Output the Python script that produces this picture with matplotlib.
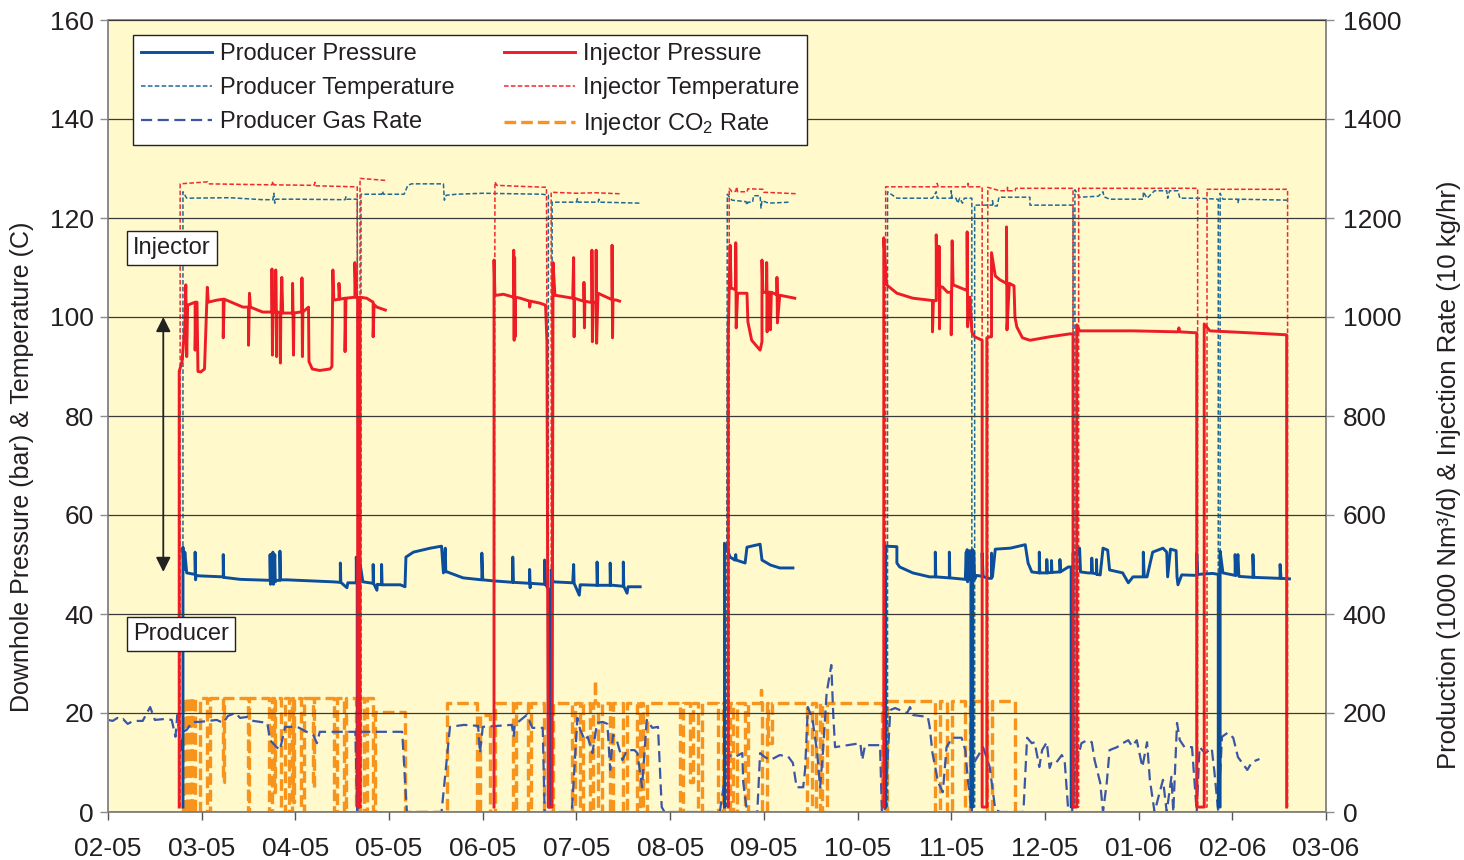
import numpy as np
import matplotlib.pyplot as plt

plt.rcParams['font.family'] = ['Liberation Sans', 'DejaVu Sans']
plt.rcParams['mathtext.fontset'] = 'custom'
plt.rcParams['mathtext.rm'] = 'Liberation Sans'
plt.rcParams['mathtext.it'] = 'Liberation Sans:italic'

month_labels = ['02-05', '03-05', '04-05', '05-05', '06-05', '07-05', '08-05',
                '09-05', '10-05', '11-05', '12-05', '01-06', '02-06', '03-06']

# x = months since 1 Feb 2005, None = gap in the record
inj_pressure = [
    (0.76, 1), (0.76, 89), (0.79, 91), (0.82, 98), (0.83, 106.5), (0.84, 92), (0.85, 102.4),
    (0.93, 103), (0.93, 93.3), (0.94, 103), (0.95, 103), (0.96, 89), (0.99, 88.9), (1.03, 89.5),
    (1.06, 106), (1.07, 103), (1.16, 103.4), (1.23, 103.6), (1.23, 95.8), (1.24, 103.6),
    (1.44, 102), (1.50, 102), (1.50, 94.3), (1.51, 104.8), (1.52, 102), (1.65, 101), (1.75, 101),
    (1.75, 109.7), (1.755, 92.3), (1.76, 101), (1.79, 101), (1.79, 109.5), (1.80, 92), (1.80, 101),
    (1.835, 100.9), (1.84, 90.7), (1.845, 100.9), (1.855, 108), (1.865, 100.8), (1.97, 100.8),
    (1.97, 106.8), (1.98, 92.3), (1.985, 100.8), (2.05, 101), (2.07, 101), (2.07, 107.9),
    (2.075, 92), (2.08, 101), (2.14, 102), (2.145, 91), (2.18, 89.5), (2.26, 89.2), (2.37, 89.5),
    (2.39, 90), (2.40, 109.5), (2.41, 103.4), (2.465, 103.6), (2.465, 106.8), (2.475, 103.6),
    (2.53, 103.8), (2.53, 93), (2.54, 103.8), (2.635, 104), (2.635, 111), (2.645, 104),
    (2.665, 104), (2.665, 1), (2.69, 1), (2.69, 104), (2.76, 103.8), (2.83, 103), (2.83, 96),
    (2.84, 102.5), (2.87, 102), (2.96, 101.4), None,
    (4.12, 1), (4.12, 111.5), (4.13, 104.4), (4.15, 104.4), (4.22, 104.6), (4.33, 104),
    (4.33, 113.5), (4.335, 95.3), (4.34, 112), (4.345, 96), (4.35, 104), (4.40, 103.8),
    (4.50, 103.2), (4.50, 102), (4.51, 103.2), (4.61, 102.8), (4.67, 102.4), (4.685, 95),
    (4.70, 1), (4.74, 1), (4.75, 111), (4.77, 104.4), (4.96, 103.8), (4.97, 112), (4.975, 96),
    (4.98, 103.8), (5.04, 103.4), (5.08, 103.2), (5.08, 107), (5.085, 97.8), (5.09, 103.2),
    (5.14, 103), (5.165, 103), (5.165, 113.5), (5.17, 95), (5.18, 103), (5.21, 103),
    (5.21, 113.5), (5.215, 94.7), (5.23, 104.8), (5.38, 103.5), (5.38, 114.5), (5.385, 95.8),
    (5.39, 103.5), (5.43, 103.4), (5.46, 103.2), None,
    (6.62, 1), (6.62, 96.8), (6.64, 114.5), (6.65, 105.8), (6.66, 105.8), (6.70, 105.5),
    (6.70, 115), (6.705, 97.8), (6.72, 104.8), (6.82, 104.8), (6.83, 99), (6.87, 95.3),
    (6.96, 93.3), (6.98, 95), (6.98, 111.5), (6.99, 105), (7.03, 105), (7.03, 111), (7.035, 97),
    (7.04, 105), (7.07, 105), (7.07, 97.4), (7.08, 105), (7.14, 104.5), (7.14, 108),
    (7.145, 98.8), (7.17, 104.4), (7.33, 103.8), None,
    (8.28, 1), (8.28, 116), (8.31, 106.5), (8.42, 104.8), (8.59, 103.8), (8.77, 103.4),
    (8.80, 103.3), (8.80, 97), (8.81, 103.3), (8.84, 103.3), (8.84, 116.6), (8.85, 106.5),
    (8.87, 106.3), (8.87, 114.3), (8.875, 97.6), (8.88, 106.2), (8.91, 106), (8.96, 105),
    (9.00, 105), (9.00, 96.4), (9.01, 115.4), (9.02, 106.5), (9.15, 105.5), (9.17, 105.4),
    (9.17, 117.2), (9.175, 98), (9.20, 104), (9.22, 97), (9.25, 96), (9.33, 95.3), (9.33, 1),
    (9.38, 1), (9.38, 95.8), (9.41, 96), (9.43, 96), (9.43, 113), (9.47, 108.3), (9.52, 107.5),
    (9.59, 106.8), (9.59, 118.2), (9.595, 97.4), (9.62, 106.8), (9.67, 106.3), (9.68, 100),
    (9.70, 98), (9.76, 95.8), (9.84, 95.3), (10.05, 96), (10.27, 96.6), (10.30, 96.6),
    (10.30, 1), (10.34, 1), (10.34, 98.4), (10.37, 97.2), (10.94, 97.2), (11.42, 97),
    (11.43, 97.8), (11.44, 97), (11.62, 96.8), (11.62, 1), (11.70, 1), (11.70, 98.6),
    (11.76, 97.2), (12.19, 96.8), (12.58, 96.4), (12.58, 1),
]

inj_temperature = [
    (0.77, 1), (0.77, 126.9), (1.06, 127.3), (1.07, 126.9), (1.75, 126.7), (1.76, 127.4),
    (1.77, 126.7), (2.20, 126.6), (2.21, 127.2), (2.22, 126.5), (2.66, 126.3), (2.67, 1),
    (2.69, 1), (2.69, 128), (2.96, 127.6), None,
    (4.12, 1), (4.13, 127.3), (4.15, 126.6), (4.40, 126.4), (4.68, 126.2), (4.70, 1),
    (4.73, 1), (4.73, 125.2), (5.00, 125.0), (5.20, 125.1), (5.46, 124.9), None,
    (6.63, 1), (6.63, 126), (6.66, 125.3), (6.70, 125.4), (6.71, 126.3), (6.72, 125.3),
    (6.82, 125.3), (6.83, 125.9), (6.99, 125.8), (7.00, 125.2), (7.35, 124.9), None,
    (8.30, 1), (8.30, 126.3), (8.84, 126.3), (8.85, 127), (8.86, 126.3), (9.18, 126.3),
    (9.18, 127), (9.19, 126.3), (9.33, 126.3), (9.33, 1), (9.39, 1), (9.39, 126.2),
    (9.52, 125.5), (9.60, 125.5), (9.60, 126.2), (9.61, 125.5), (9.68, 125.5), (9.69, 126),
    (10.30, 126), (10.30, 1), (10.36, 1), (10.36, 126), (11.63, 126), (11.63, 1), (11.73, 1),
    (11.73, 125.8), (12.59, 125.8), (12.59, 1),
]

prod_pressure = [
    (0.80, 1), (0.80, 53.5), (0.81, 49), (0.82, 52.5), (0.84, 48.3), (0.93, 48), (0.93, 52.5),
    (0.935, 46.9), (0.94, 47.8), (0.98, 47.7), (1.23, 47.5), (1.23, 52), (1.235, 47.4),
    (1.41, 47), (1.73, 46.8), (1.73, 52), (1.735, 46), (1.745, 52), (1.75, 46.5), (1.76, 52.5),
    (1.765, 46), (1.78, 52), (1.785, 46.5), (1.80, 46.8), (1.835, 46.8), (1.835, 52.7),
    (1.84, 46.9), (1.91, 46.9), (2.40, 46.5), (2.48, 46.4), (2.48, 50.3), (2.485, 46.4),
    (2.55, 45.3), (2.56, 46.3), (2.61, 46.3), (2.65, 46.3), (2.65, 51.5), (2.66, 47), (2.66, 1),
    (2.68, 1), (2.68, 51.5), (2.72, 46.5), (2.83, 46.2), (2.83, 50), (2.835, 46.2), (2.87, 44.8),
    (2.875, 46), (2.92, 45.9), (2.92, 50), (2.925, 45.9), (3.12, 45.9), (3.17, 45.5),
    (3.18, 51.5), (3.26, 52.5), (3.44, 53.3), (3.56, 53.7), (3.58, 48.3), (3.60, 53.3),
    (3.605, 48.5), (3.62, 48.5), (3.79, 47.3), (3.99, 46.9), (3.99, 52.3), (4.00, 46.9),
    (4.11, 46.7), (4.32, 46.4), (4.32, 51.5), (4.325, 46.4), (4.50, 46.2), (4.50, 49),
    (4.505, 45.3), (4.51, 46.2), (4.66, 46), (4.66, 50.9), (4.67, 46), (4.70, 45), (4.70, 1),
    (4.72, 1), (4.73, 48.9), (4.75, 46.5), (4.96, 46.3), (4.97, 50), (4.975, 46.2),
    (5.03, 43.8), (5.04, 45.9), (5.06, 45.9), (5.22, 45.8), (5.22, 50.5), (5.225, 45.8),
    (5.36, 45.8), (5.36, 50.3), (5.365, 45.8), (5.39, 45.8), (5.50, 45.6), (5.50, 50.5),
    (5.505, 45.6), (5.54, 44.2), (5.55, 45.5), (5.68, 45.5), None,
    (6.58, 1), (6.58, 54.3), (6.61, 53), (6.64, 51.5), (6.69, 50.9), (6.70, 52), (6.705, 50.9),
    (6.80, 50.3), (6.82, 53.5), (6.96, 54.1), (6.98, 50.9), (7.07, 49.9), (7.17, 49.3),
    (7.31, 49.3), None,
    (8.30, 1), (8.30, 53.7), (8.42, 53.6), (8.42, 50.3), (8.45, 49.5), (8.59, 48.3),
    (8.77, 47.5), (8.83, 47.5), (8.83, 52.5), (8.835, 47.5), (8.98, 47.3), (8.98, 52.5),
    (8.985, 47.3), (9.15, 47), (9.16, 52.5), (9.165, 47), (9.17, 53), (9.175, 46.5),
    (9.18, 52), (9.19, 47), (9.20, 52.8), (9.21, 47), (9.21, 1), (9.23, 1), (9.23, 53),
    (9.235, 47), (9.24, 52.5), (9.25, 47), (9.27, 47.8), (9.33, 47.6), (9.33, 52.3),
    (9.34, 47.6), (9.39, 47.2), (9.43, 47.2), (9.43, 52.3), (9.44, 47.5), (9.47, 53.1),
    (9.63, 53.3), (9.79, 54), (9.82, 50.3), (9.86, 48.5), (9.94, 48.3), (9.94, 52.5),
    (9.945, 48.3), (10.02, 48.3), (10.02, 51), (10.025, 48.3), (10.07, 48.4), (10.07, 50.8),
    (10.075, 48.4), (10.16, 48.5), (10.16, 51), (10.165, 48.5), (10.25, 49.5), (10.28, 49.5),
    (10.28, 1), (10.30, 1), (10.30, 52.3), (10.35, 52.3), (10.37, 53.3), (10.38, 48.5),
    (10.46, 48.3), (10.50, 48.3), (10.50, 51.3), (10.505, 48.3), (10.55, 48.1), (10.55, 51),
    (10.555, 48), (10.59, 47.9), (10.62, 53.3), (10.67, 52.9), (10.69, 48.9), (10.83, 48.3),
    (10.89, 46.3), (10.94, 47.5), (11.05, 47.5), (11.05, 52.5), (11.06, 47.5), (11.09, 47.5),
    (11.15, 52.5), (11.26, 53.3), (11.30, 52.5), (11.31, 47.5), (11.34, 53.1), (11.40, 52.8),
    (11.41, 47.5), (11.42, 45.9), (11.46, 47.9), (11.62, 47.8), (11.62, 52.3), (11.63, 48),
    (11.79, 48.2), (11.85, 48), (11.85, 1), (11.87, 1), (11.87, 52.7), (11.90, 48.3),
    (12.03, 47.8), (12.03, 52), (12.04, 47.8), (12.06, 52), (12.07, 47.6), (12.22, 47.4),
    (12.22, 52), (12.23, 47.4), (12.51, 47.2), (12.51, 50), (12.52, 47.2), (12.61, 47.1),
]

prod_temperature = [
    (0.80, 1), (0.80, 125.3), (0.84, 124), (1.30, 124.1), (1.65, 123.7), (1.76, 123.7),
    (1.77, 125), (1.78, 123), (1.79, 123.8), (2.00, 123.8), (2.53, 123.7), (2.54, 124.3),
    (2.55, 123.8), (2.66, 123.8), (2.67, 1), (2.70, 1), (2.70, 124.8), (2.92, 124.8),
    (2.93, 125.4), (2.94, 124.8), (3.16, 124.8), (3.20, 126.6), (3.24, 126.9), (3.58, 126.9),
    (3.59, 123.6), (3.61, 124.6), (3.72, 124.8), (4.00, 125), (4.64, 124.8), (4.70, 124.6),
    (4.70, 1), (4.74, 1), (4.74, 123.2), (5.00, 123.2), (5.01, 123.9), (5.02, 123.2),
    (5.23, 123.2), (5.24, 123.8), (5.25, 123.2), (5.68, 123), None,
    (6.60, 1), (6.61, 124.8), (6.66, 123.6), (6.81, 123.3), (6.82, 122.6), (6.83, 123.2),
    (6.88, 123.2), (6.89, 124.5), (6.96, 124.5), (6.97, 122), (6.98, 123.5), (7.05, 123),
    (7.28, 123.2), None,
    (8.32, 1), (8.32, 125.3), (8.42, 124), (8.80, 124), (8.84, 125.3), (8.85, 124), (9.00, 124),
    (9.00, 125.5), (9.01, 124), (9.05, 124), (9.07, 123), (9.09, 124), (9.12, 123), (9.14, 124),
    (9.22, 124), (9.22, 1), (9.25, 1), (9.25, 122.6), (9.44, 122.6), (9.44, 123.5),
    (9.45, 122.5), (9.49, 122.4), (9.51, 124.2), (9.84, 124.2), (9.84, 122.6), (10.30, 122.6),
    (10.30, 1), (10.32, 1), (10.32, 125.7), (10.37, 124.2), (10.57, 124.4), (10.62, 125.3),
    (10.63, 124.3), (10.69, 123.8), (11.05, 123.8), (11.05, 125.3), (11.09, 124),
    (11.17, 125.5), (11.30, 125.5), (11.31, 124), (11.33, 125.5), (11.42, 125.5), (11.44, 124),
    (11.63, 124), (11.85, 123.8), (11.85, 1), (11.87, 1), (11.87, 125), (11.90, 123.8),
    (12.06, 123.8), (12.06, 123), (12.07, 123.8), (12.61, 123.6),
]

# producer gas rate, 1000 Nm3/d (right axis)
gas_rate = [
    (0.00, 186), (0.05, 184), (0.10, 190), (0.13, 186), (0.16, 188), (0.21, 178), (0.27, 184),
    (0.37, 184), (0.45, 212), (0.50, 186), (0.61, 188), (0.68, 186), (0.72, 152), (0.74, 196),
    (0.78, 119), (0.80, 162), (0.84, 166), (0.90, 182), (0.98, 182), (1.16, 186), (1.23, 180),
    (1.28, 194), (1.36, 200), (1.41, 190), (1.48, 192), (1.55, 184), (1.70, 180), (1.73, 145),
    (1.80, 131), (1.835, 125), (1.89, 172), (2.02, 172), (2.12, 162), (2.19, 156), (2.23, 139),
    (2.26, 162), (2.40, 162), (2.64, 162), (2.66, 0), (2.69, 162), (3.14, 162), (3.19, 0),
    (3.56, 0), (3.65, 172), (3.80, 176), (3.95, 174), (3.97, 119), (4.00, 172), (4.31, 176),
    (4.33, 152), (4.34, 176), (4.47, 196), (4.53, 170), (4.64, 170), (4.66, 0), (4.95, 0),
    (5.01, 190), (5.04, 166), (5.09, 145), (5.12, 152), (5.17, 119), (5.22, 180), (5.28, 182),
    (5.33, 178), (5.36, 85), (5.39, 156), (5.43, 145), (5.49, 105), (5.54, 125), (5.62, 125),
    (5.65, 119), (5.70, 50), (5.75, 186), (5.81, 170), (5.87, 172), (5.91, 10), (5.94, 0),
    (6.53, 0), (6.62, 115), (6.69, 111), (6.77, 119), (6.78, 60), (6.82, 0), (6.93, 0),
    (6.96, 119), (7.01, 111), (7.07, 105), (7.17, 115), (7.26, 112), (7.31, 99), (7.35, 50),
    (7.42, 50), (7.44, 85), (7.47, 212), (7.52, 186), (7.57, 119), (7.60, 50), (7.63, 119),
    (7.67, 240), (7.72, 297), (7.74, 200), (7.76, 131), (8.03, 139), (8.05, 105), (8.08, 135),
    (8.24, 135), (8.26, 0), (8.29, 0), (8.35, 206), (8.40, 210), (8.53, 200), (8.56, 212),
    (8.59, 196), (8.75, 192), (8.77, 172), (8.80, 119), (8.86, 60), (8.91, 40), (8.95, 131),
    (9.01, 150), (9.11, 150), (9.15, 125), (9.18, 60), (9.22, 0), (9.23, 95), (9.34, 131),
    (9.41, 91), (9.47, 5), (9.52, 0), (9.77, 0), (9.81, 150), (9.86, 139), (9.89, 141),
    (9.94, 91), (9.97, 125), (10.02, 141), (10.05, 89), (10.07, 99), (10.11, 97), (10.18, 115),
    (10.21, 105), (10.25, 0), (10.29, 0), (10.32, 85), (10.39, 139), (10.45, 145), (10.50, 141),
    (10.53, 105), (10.59, 59), (10.62, 0), (10.66, 59), (10.69, 125), (10.77, 131),
    (10.83, 139), (10.89, 145), (10.93, 133), (10.98, 145), (11.04, 91), (11.09, 141),
    (11.12, 65), (11.17, 0), (11.26, 65), (11.30, 0), (11.35, 71), (11.37, 0), (11.41, 180),
    (11.44, 145), (11.49, 131), (11.57, 131), (11.58, 105), (11.62, 0), (11.65, 131),
    (11.71, 119), (11.78, 129), (11.81, 79), (11.85, 0), (11.89, 152), (11.95, 160),
    (12.01, 150), (12.06, 111), (12.16, 85), (12.21, 101), (12.29, 107),
]

# injector CO2 rate, 10 kg/hr (right axis): running periods, short outages, spikes
co2_levels = [(0.80, 2.83, 230), (2.85, 3.17, 203), (3.62, 3.94, 220), (3.97, 4.08, 195),
              (4.13, 8.26, 220), (8.31, 9.68, 225)]
co2_outages = [
    (0.81, 0.84, 0), (0.875, 0.90, 0), (0.93, 0.98, 0), (1.06, 1.09, 0), (1.23, 1.24, 60),
    (1.49, 1.505, 0), (1.72, 1.75, 0), (1.77, 1.78, 40), (1.85, 1.89, 0), (1.93, 1.96, 0),
    (1.97, 1.985, 20), (2.06, 2.09, 0), (2.19, 2.20, 50), (2.41, 2.44, 0), (2.52, 2.54, 0),
    (2.65, 2.69, 0), (2.73, 2.76, 0), (4.32, 4.36, 0), (4.48, 4.52, 0), (4.65, 4.75, 0),
    (4.95, 4.98, 0), (5.04, 5.07, 0), (5.14, 5.18, 0), (5.23, 5.27, 0), (5.36, 5.39, 0),
    (5.50, 5.54, 0), (5.65, 5.68, 0), (5.71, 5.75, 0), (6.10, 6.14, 0), (6.21, 6.24, 60),
    (6.30, 6.34, 0), (6.51, 6.56, 0), (6.58, 6.64, 0), (6.67, 6.71, 0), (6.80, 6.83, 0),
    (6.985, 7.03, 0), (7.04, 7.09, 140), (7.46, 7.51, 0), (7.56, 7.60, 0), (7.62, 7.67, 0),
    (8.83, 8.88, 0), (8.95, 9.01, 0), (9.15, 9.20, 0), (9.38, 9.43, 0),
]
co2_spikes = [(5.20, 267), (6.97, 246)]


def split(series):
    x = [np.nan if p is None else p[0] for p in series]
    y = [np.nan if p is None else p[1] for p in series]
    return x, y


def rate_steps(levels, outages, spikes):
    xs, ys = [], []
    for start, end, level in levels:
        xs += [start, start]
        ys += [0, level]
        events = [(a, 'o', (b, floor)) for a, b, floor in outages if start < a < end]
        events += [(s, 's', v) for s, v in spikes if start < s < end]
        for pos, kind, info in sorted(events):
            if kind == 'o':
                b, floor = info
                xs += [pos, pos, b, b]
                ys += [level, floor, floor, level]
            else:
                xs += [pos, pos, pos]
                ys += [level, info, level]
        xs += [end, end]
        ys += [level, 0]
    return xs, ys


bg = '#fff9cc'
text_col = '#231f20'

fig = plt.figure(figsize=(14.64, 8.6), dpi=100)
ax = fig.add_axes([108 / 1464, 48 / 860, 1218 / 1464, 792 / 860])
ax2 = ax.twinx()
ax.set_zorder(ax2.get_zorder() + 1)
ax.patch.set_visible(False)
ax2.patch.set_visible(True)
ax2.patch.set_facecolor(bg)

cx, cy = rate_steps(co2_levels, co2_outages, co2_spikes)
h_co2, = ax2.plot(cx, cy, color='#f7941d', lw=2.4, dashes=(3.5, 1.5))
gx, gy = split(gas_rate)
h_gas, = ax2.plot(gx, gy, color='#3a56a6', lw=1.6, dashes=(5, 2.5))

x, y = split(prod_temperature)
h_pt, = ax.plot(x, y, color='#1f6a94', lw=1.1, dashes=(3, 1.5))
x, y = split(inj_temperature)
h_it, = ax.plot(x, y, color='#ee2a2f', lw=1.1, dashes=(3, 1.5))
x, y = split(prod_pressure)
h_pp, = ax.plot(x, y, color='#0b4f9c', lw=2.1)
x, y = split(inj_pressure)
h_ip, = ax.plot(x, y, color='#ee1c25', lw=2.1)

ax.set_xlim(0, 13)
ax.set_ylim(0, 160)
ax2.set_ylim(0, 1600)
ax.set_xticks(range(len(month_labels)))
ax.set_xticklabels(month_labels)
ax.set_yticks(range(0, 161, 20))
ax2.set_yticks(range(0, 1601, 200))

ax.grid(axis='y', color='#3a3a3a', lw=0.9)
ax.set_axisbelow(False)
for a in (ax, ax2):
    for s in a.spines.values():
        s.set_color('#8c8c8c')
        s.set_linewidth(1.4)
    a.tick_params(labelsize=19, colors=text_col, length=6, width=1, direction='out')
ax.tick_params(axis='y', colors='#8c8c8c', labelcolor=text_col, pad=4)
ax2.tick_params(axis='y', colors='#8c8c8c', labelcolor=text_col, pad=6)
ax.tick_params(axis='x', colors='#555555', labelcolor=text_col, pad=12)

ax.set_ylabel('Downhole Pressure (bar) & Temperature (C)', fontsize=18, color=text_col)
ax.yaxis.set_label_coords(-0.061, 0.436)
ax2.set_ylabel('Production (1000 Nm³/d) & Injection Rate (10 kg/hr)', fontsize=18.5,
               color=text_col)
ax2.yaxis.set_label_coords(1.091, 0.4255)

handles = [h_pp, h_pt, h_gas, h_ip, h_it, h_co2]
labels = ['Producer Pressure', 'Producer Temperature', 'Producer Gas Rate',
          'Injector Pressure', 'Injector Temperature', 'Injector CO$_2$ Rate']
leg = ax.legend(handles, labels, ncol=2, loc='upper left', bbox_to_anchor=(0.0205, 0.981),
                borderaxespad=0, fontsize=17, handlelength=3.0, handletextpad=0.35,
                columnspacing=2.1, labelspacing=0.52, frameon=True, fancybox=False,
                edgecolor='#222222', framealpha=1, borderpad=0.33)
leg.get_frame().set_linewidth(1.0)
for t in leg.get_texts():
    t.set_color(text_col)

box = dict(boxstyle='square,pad=0.25', facecolor='white', edgecolor='#222222', lw=1.0)
ax.text(0.27, 114, 'Injector', fontsize=17, color=text_col, va='center', ha='left', bbox=box)
ax.text(0.27, 36, 'Producer', fontsize=17, color=text_col, va='center', ha='left', bbox=box)
ax.annotate('', xy=(0.59, 48.5), xytext=(0.59, 100),
            arrowprops=dict(arrowstyle='<|-|>', color='#222222', lw=1.3, mutation_scale=22,
                            shrinkA=0, shrinkB=0))

fig.savefig('out.png', dpi=100, facecolor='white')
